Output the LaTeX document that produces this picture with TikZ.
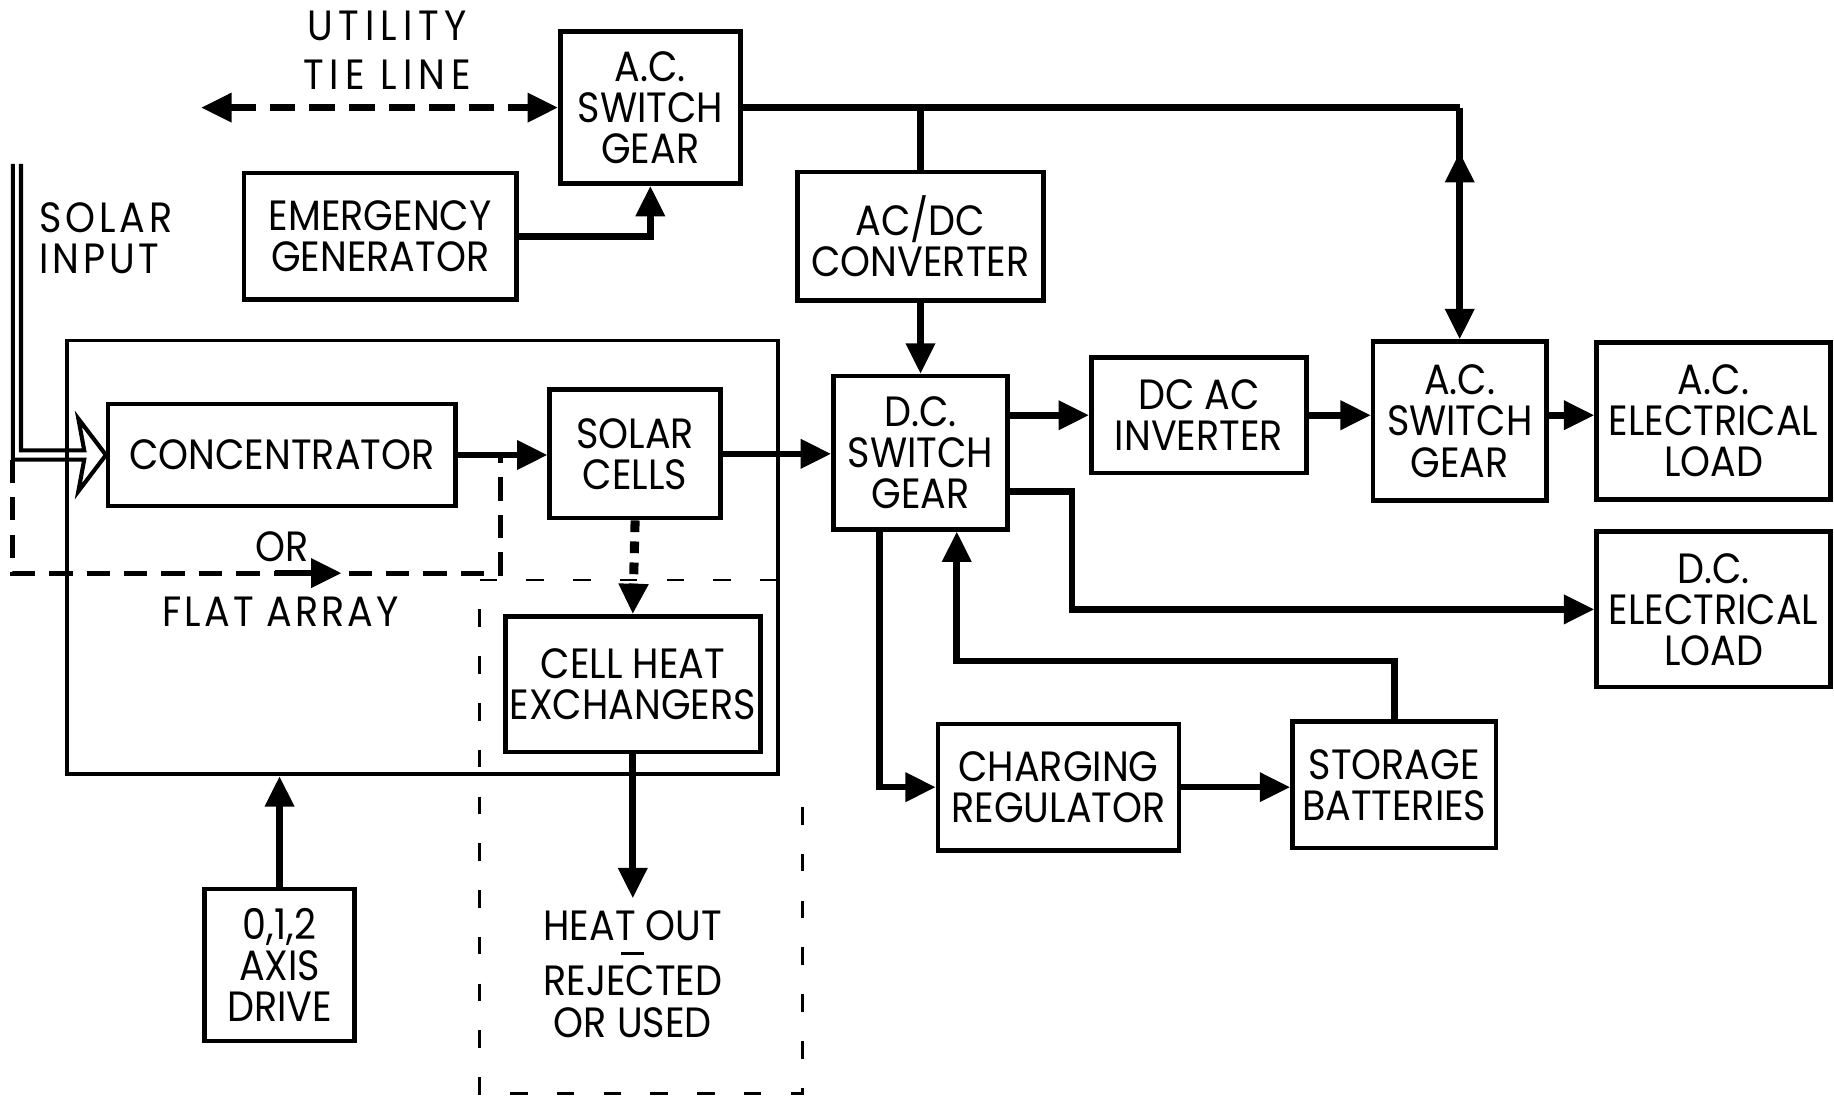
\documentclass[tikz,border=0pt]{standalone}
\usepackage{fontspec}
\setmainfont{Poppins}[FakeStretch=0.9]
\usetikzlibrary{arrows.meta, positioning, calc}

\begin{document}
\begin{tikzpicture}[
  x=0.1mm, y=-0.1mm,
  >={Triangle[length=2.6mm, width=2.4mm]},
  every node/.style={font=\fontsize{10.3}{10}\selectfont},
  blk/.style={rectangle, draw=black, line width=1.1pt, align=center, inner sep=0pt},
  lbl/.style={align=center, inner sep=0pt},
  wide/.style={font=\fontsize{10.3}{10}\selectfont\addfontfeature{LetterSpace=#1}},
  frame/.style={rectangle, draw=black, line width=0.9pt, inner sep=0pt},
  arr/.style={->, line width=1.6pt},
  wire/.style={line width=1.6pt},
  tiedash/.style={dash pattern=on 2.2mm off 1.2mm},
  flatdash/.style={line width=1.2pt, dash pattern=on 2mm off 1.2mm},
  thindash/.style={line width=0.6pt, dash pattern=on 1.5mm off 2.5mm},
  dotline/.style={line width=2.2pt, dash pattern=on 1mm off 0.8mm},
  pipe/.style={line width=1pt},
]
\useasboundingbox (0,0) rectangle (1568,937);

% top row
\node[blk, minimum width=15.4mm, minimum height=13mm] (acswA) at (556,92) {A.C.\\SWITCH\\GEAR};
\node[blk, minimum width=23.3mm, minimum height=10.8mm] (emgen) at (325,202) {EMERGENCY\\GENERATOR};
\node[blk, minimum width=21mm, minimum height=11mm] (acdc) at (787,202) {AC/DC\\CONVERTER};
\node[lbl, wide=14] (tie) at (331,43) {UTILITY\\[0.6mm]TIE LINE};
\node[lbl, wide=9, anchor=west, align=left] (solar) at (33,204) {SOLAR\\INPUT};

% solar array
\node[frame, minimum width=60.8mm, minimum height=37.1mm] (array) at (361,476.5) {};
\node[blk, minimum width=29.7mm, minimum height=8.7mm] (conc) at (241,389) {CONCENTRATOR};
\node[blk, minimum width=14.6mm, minimum height=11mm] (cells) at (543,388) {SOLAR\\CELLS};
\node[blk, minimum width=21.8mm, minimum height=11.6mm] (heatx) at (541,585) {CELL HEAT\\EXCHANGERS};
\node[blk, minimum width=12.8mm, minimum height=13mm] (drive) at (239,825) {0,1,2\\AXIS\\DRIVE};
\node[lbl] (or) at (241,467) {OR};
\node[lbl, wide=7] (flat) at (240,523) {FLAT ARRAY};
\node[lbl, anchor=north, inner sep=1mm] (heat) at (541,768) {HEAT OUT\\[-2.3mm]\rule{2mm}{0.8pt}\\REJECTED\\OR USED};

% power side
\node[blk, minimum width=14.9mm, minimum height=13.1mm] (dcsw) at (787,387) {D.C.\\SWITCH\\GEAR};
\node[blk, minimum width=18.4mm, minimum height=9.9mm] (inv) at (1025,355) {DC AC\\INVERTER};
\node[blk, minimum width=14.8mm, minimum height=13.6mm] (acswB) at (1248,360) {A.C.\\SWITCH\\GEAR};
\node[blk, minimum width=20mm, minimum height=13.4mm] (acload) at (1465,360) {A.C.\\ELECTRICAL\\LOAD};
\node[blk, minimum width=20mm, minimum height=13.3mm] (dcload) at (1465,521) {D.C.\\ELECTRICAL\\LOAD};
\node[blk, minimum width=20.6mm, minimum height=10.8mm] (chreg) at (905,673) {CHARGING\\REGULATOR};
\node[blk, minimum width=17.4mm, minimum height=10.8mm] (batt) at (1192,671) {STORAGE\\BATTERIES};

% utility and a.c. bus
\coordinate (tieend) at (172,92);
\draw[<->, line width=1.6pt, tiedash] (tieend) -- (acswA.west);
\draw[arr] (emgen.east) -| (acswA.south);
\coordinate (tee) at (acswA.east -| acswB.north);
\draw[wire] (acswA.east) -- (tee);
\draw[arr] (tee) -- (acswB.north);
\draw[arr] ($(tee)+(0,68)$) -- ($(tee)+(0,38)$);
\draw[wire] (acdc.north) -- (acdc.north |- acswA.east);
\draw[arr] (acdc.south) -- (dcsw.north);

% d.c. side
\draw[arr] (dcsw.east |- inv.west) -- (inv.west);
\draw[arr] (inv.east) -- (inv.east -| acswB.west);
\draw[arr] (acswB.east |- inv.east) -- (inv.east -| acload.west);
\draw[arr] ($(dcsw.east)+(0,33)$) -- ++(53,0) |- (dcload.west);
\draw[arr] ($(dcsw.south)+(-35,0)$) |- (chreg.west);
\draw[arr] (chreg.east) -- (chreg.east -| batt.west);
\draw[arr] (batt.north) -- ++(0,-50) -| ($(dcsw.south)+(31,0)$);

% solar input and array
\draw[pipe] (18,140) -- (18,385) -- (72,385) -- (67,358) -- (conc.west) -- (67,420) -- (72,393) -- (11,393) -- (11,140);
\draw[flatdash] (11,393) -- (11,490) -- (428,490) -- (428,389);
\draw[arr] (235,490) -- (292,490);
\draw[arr] (conc.east) -- (conc.east -| cells.west);
\draw[arr] (cells.east) -- (cells.east -| dcsw.west);
\draw[arr, dotline] (cells.south) -- (heatx.north);
\draw[arr] (heatx.south) -- (heat.north);
\draw[arr] (drive.north) -- (drive.north |- array.south);
\draw[thindash] (665,496) -- (410,496) -- (410,935) -- (686,935) -- (686,668);

\end{tikzpicture}
\end{document}
